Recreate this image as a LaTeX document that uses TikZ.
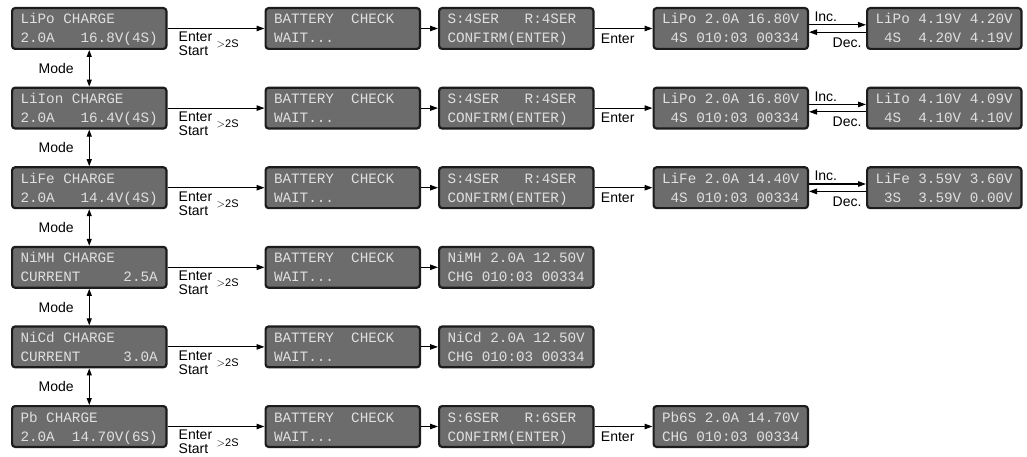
\documentclass[tikz,border=0pt]{standalone}
\usepackage{fontspec}
\setmainfont{Liberation Sans}
\newfontfamily\lcdfont{Liberation Mono}
\usepackage{xcolor}
\usetikzlibrary{arrows.meta, positioning}
\definecolor{lcdbg}{RGB}{108,108,108}
\definecolor{lcdfg}{RGB}{224,224,224}
\definecolor{lcdrim}{RGB}{28,28,28}
\newcommand{\sk}{\hphantom{0}}
\newcommand{\screen}[2]{\rule{0pt}{13.5pt}#1\\#2\rule[-3.5pt]{0pt}{3.5pt}}

\begin{document}
\begin{tikzpicture}[x=1pt, y=1pt,
      lcd/.style={draw=lcdrim, line width=2.2pt, rounded corners=3pt, fill=lcdbg,
                  text=lcdfg, font=\lcdfont\fontsize{14.3}{19}\selectfont,
                  text width=137.5pt, align=left, inner xsep=8.4pt, inner ysep=0pt,
                  minimum height=40.8pt},
      arr/.style={-{Triangle[length=8pt, width=5.5pt]}, line width=1.1pt},
      marr/.style={{Triangle[length=7pt, width=5pt]}-{Triangle[length=7pt, width=5pt]},
                   line width=1.1pt},
      lbl/.style={font=\fontsize{14}{14}\selectfont, inner sep=0pt},
      gt/.style={font=\fontsize{11}{11}\selectfont, inner sep=0pt},
    ]
      \fill[white] (0,0) rectangle (1027,-457);
      \useasboundingbox (0,0) rectangle (1027,-457);

      % LiPo
      \node[lcd, anchor=north west] (po1) at (11,-7) {\screen{LiPo\sk CHARGE}{2.0A\sk\sk\sk16.8V(4S)}};
      \node[lcd, right=97pt of po1] (po2) {\screen{BATTERY\sk\sk CHECK}{WAIT...}};
      \node[lcd, right=17pt of po2] (po3) {\screen{S:4SER\sk\sk\sk R:4SER}{CONFIRM(ENTER)}};
      \node[lcd, right=58pt of po3] (po4) {\screen{LiPo\sk 2.0A\sk 16.80V}{\sk 4S\sk 010:03\sk 00334}};
      \node[lcd, right=57pt of po4] (po5) {\screen{LiPo\sk 4.19V\sk 4.20V}{\sk 4S\sk\sk 4.20V\sk 4.19V}};
      \draw[arr] (po1) -- (po2);
      \node[lbl, anchor=north west, align=left] (es1) at ([xshift=11pt, yshift=-3.5pt]po1.east) {Enter\\Start};
      \node[gt, anchor=base west] (gt1) at ([xshift=49pt, yshift=-19.5pt]po1.east) {$>$2S};
      \draw[arr] (po2) -- (po3);
      \draw[arr] (po3) -- node[lbl, pos=0.4, below=4.5pt] (en1) {Enter} (po4);
      \draw[arr] ([yshift=3.7pt]po4.east) -- node[lbl, pos=0, anchor=south west, xshift=5pt, yshift=2.5pt] (inc1) {Inc.} ([yshift=3.7pt]po5.west);
      \draw[arr] ([yshift=-3.7pt]po5.west) -- node[lbl, pos=0, anchor=north east, xshift=-4pt, yshift=-5pt] (dec1) {Dec.} ([yshift=-3.7pt]po4.east);

      % LiIon
      \node[lcd, below=36.6pt of po1] (io1) {\screen{LiIon\sk CHARGE}{2.0A\sk\sk\sk16.4V(4S)}};
      \node[lcd, right=97pt of io1] (io2) {\screen{BATTERY\sk\sk CHECK}{WAIT...}};
      \node[lcd, right=17pt of io2] (io3) {\screen{S:4SER\sk\sk\sk R:4SER}{CONFIRM(ENTER)}};
      \node[lcd, right=58pt of io3] (io4) {\screen{LiPo\sk 2.0A\sk 16.80V}{\sk 4S\sk 010:03\sk 00334}};
      \node[lcd, right=57pt of io4] (io5) {\screen{LiIo\sk 4.10V\sk 4.09V}{\sk 4S\sk\sk 4.10V\sk 4.10V}};
      \draw[arr] (io1) -- (io2);
      \node[lbl, anchor=north west, align=left] (es2) at ([xshift=11pt, yshift=-3.5pt]io1.east) {Enter\\Start};
      \node[gt, anchor=base west] (gt2) at ([xshift=49pt, yshift=-19.5pt]io1.east) {$>$2S};
      \draw[arr] (io2) -- (io3);
      \draw[arr] (io3) -- node[lbl, pos=0.4, below=4.5pt] (en2) {Enter} (io4);
      \draw[arr] ([yshift=3.7pt]io4.east) -- node[lbl, pos=0, anchor=south west, xshift=5pt, yshift=2.5pt] (inc2) {Inc.} ([yshift=3.7pt]io5.west);
      \draw[arr] ([yshift=-3.7pt]io5.west) -- node[lbl, pos=0, anchor=north east, xshift=-4pt, yshift=-5pt] (dec2) {Dec.} ([yshift=-3.7pt]io4.east);

      % LiFe
      \node[lcd, below=36.6pt of io1] (fe1) {\screen{LiFe\sk CHARGE}{2.0A\sk\sk\sk14.4V(4S)}};
      \node[lcd, right=97pt of fe1] (fe2) {\screen{BATTERY\sk\sk CHECK}{WAIT...}};
      \node[lcd, right=17pt of fe2] (fe3) {\screen{S:4SER\sk\sk\sk R:4SER}{CONFIRM(ENTER)}};
      \node[lcd, right=58pt of fe3] (fe4) {\screen{LiFe\sk 2.0A\sk 14.40V}{\sk 4S\sk 010:03\sk 00334}};
      \node[lcd, right=57pt of fe4] (fe5) {\screen{LiFe\sk 3.59V\sk 3.60V}{\sk 3S\sk\sk 3.59V\sk 0.00V}};
      \draw[arr] (fe1) -- (fe2);
      \node[lbl, anchor=north west, align=left] (es3) at ([xshift=11pt, yshift=-3.5pt]fe1.east) {Enter\\Start};
      \node[gt, anchor=base west] (gt3) at ([xshift=49pt, yshift=-19.5pt]fe1.east) {$>$2S};
      \draw[arr] (fe2) -- (fe3);
      \draw[arr] (fe3) -- node[lbl, pos=0.4, below=4.5pt] (en3) {Enter} (fe4);
      \draw[arr] ([yshift=3.7pt]fe4.east) -- node[lbl, pos=0, anchor=south west, xshift=5pt, yshift=2.5pt] (inc3) {Inc.} ([yshift=3.7pt]fe5.west);
      \draw[arr] ([yshift=-3.7pt]fe5.west) -- node[lbl, pos=0, anchor=north east, xshift=-4pt, yshift=-5pt] (dec3) {Dec.} ([yshift=-3.7pt]fe4.east);

      % NiMH
      \node[lcd, below=36.6pt of fe1] (mh1) {\screen{NiMH\sk CHARGE}{CURRENT\sk\sk\sk\sk\sk 2.5A}};
      \node[lcd, right=97pt of mh1] (mh2) {\screen{BATTERY\sk\sk CHECK}{WAIT...}};
      \node[lcd, right=17pt of mh2] (mh3) {\screen{NiMH\sk 2.0A\sk 12.50V}{CHG\sk 010:03\sk 00334}};
      \draw[arr] (mh1) -- (mh2);
      \node[lbl, anchor=north west, align=left] (es4) at ([xshift=11pt, yshift=-3.5pt]mh1.east) {Enter\\Start};
      \node[gt, anchor=base west] (gt4) at ([xshift=49pt, yshift=-19.5pt]mh1.east) {$>$2S};
      \draw[arr] (mh2) -- (mh3);

      % NiCd
      \node[lcd, below=36.6pt of mh1] (cd1) {\screen{NiCd\sk CHARGE}{CURRENT\sk\sk\sk\sk\sk 3.0A}};
      \node[lcd, right=97pt of cd1] (cd2) {\screen{BATTERY\sk\sk CHECK}{WAIT...}};
      \node[lcd, right=17pt of cd2] (cd3) {\screen{NiCd\sk 2.0A\sk 12.50V}{CHG\sk 010:03\sk 00334}};
      \draw[arr] (cd1) -- (cd2);
      \node[lbl, anchor=north west, align=left] (es5) at ([xshift=11pt, yshift=-3.5pt]cd1.east) {Enter\\Start};
      \node[gt, anchor=base west] (gt5) at ([xshift=49pt, yshift=-19.5pt]cd1.east) {$>$2S};
      \draw[arr] (cd2) -- (cd3);

      % Pb
      \node[lcd, below=36.6pt of cd1] (pb1) {\screen{Pb\sk CHARGE}{2.0A\sk\sk 14.70V(6S)}};
      \node[lcd, right=97pt of pb1] (pb2) {\screen{BATTERY\sk\sk CHECK}{WAIT...}};
      \node[lcd, right=17pt of pb2] (pb3) {\screen{S:6SER\sk\sk\sk R:6SER}{CONFIRM(ENTER)}};
      \node[lcd, right=58pt of pb3] (pb4) {\screen{Pb6S\sk 2.0A\sk 14.70V}{CHG\sk 010:03\sk 00334}};
      \draw[arr] (pb1) -- (pb2);
      \node[lbl, anchor=north west, align=left] (es6) at ([xshift=11pt, yshift=-3.5pt]pb1.east) {Enter\\Start};
      \node[gt, anchor=base west] (gt6) at ([xshift=49pt, yshift=-19.5pt]pb1.east) {$>$2S};
      \draw[arr] (pb2) -- (pb3);
      \draw[arr] (pb3) -- node[lbl, pos=0.4, below=4.5pt] (en6) {Enter} (pb4);

      % mode key
      \draw[marr] (po1) -- node[lbl, left=15pt] (md1) {Mode} (io1);
      \draw[marr] (io1) -- node[lbl, left=15pt] (md2) {Mode} (fe1);
      \draw[marr] (fe1) -- node[lbl, left=15pt] (md3) {Mode} (mh1);
      \draw[marr] (mh1) -- node[lbl, left=15pt] (md4) {Mode} (cd1);
      \draw[marr] (cd1) -- node[lbl, left=15pt] (md5) {Mode} (pb1);
    \end{tikzpicture}
\end{document}
